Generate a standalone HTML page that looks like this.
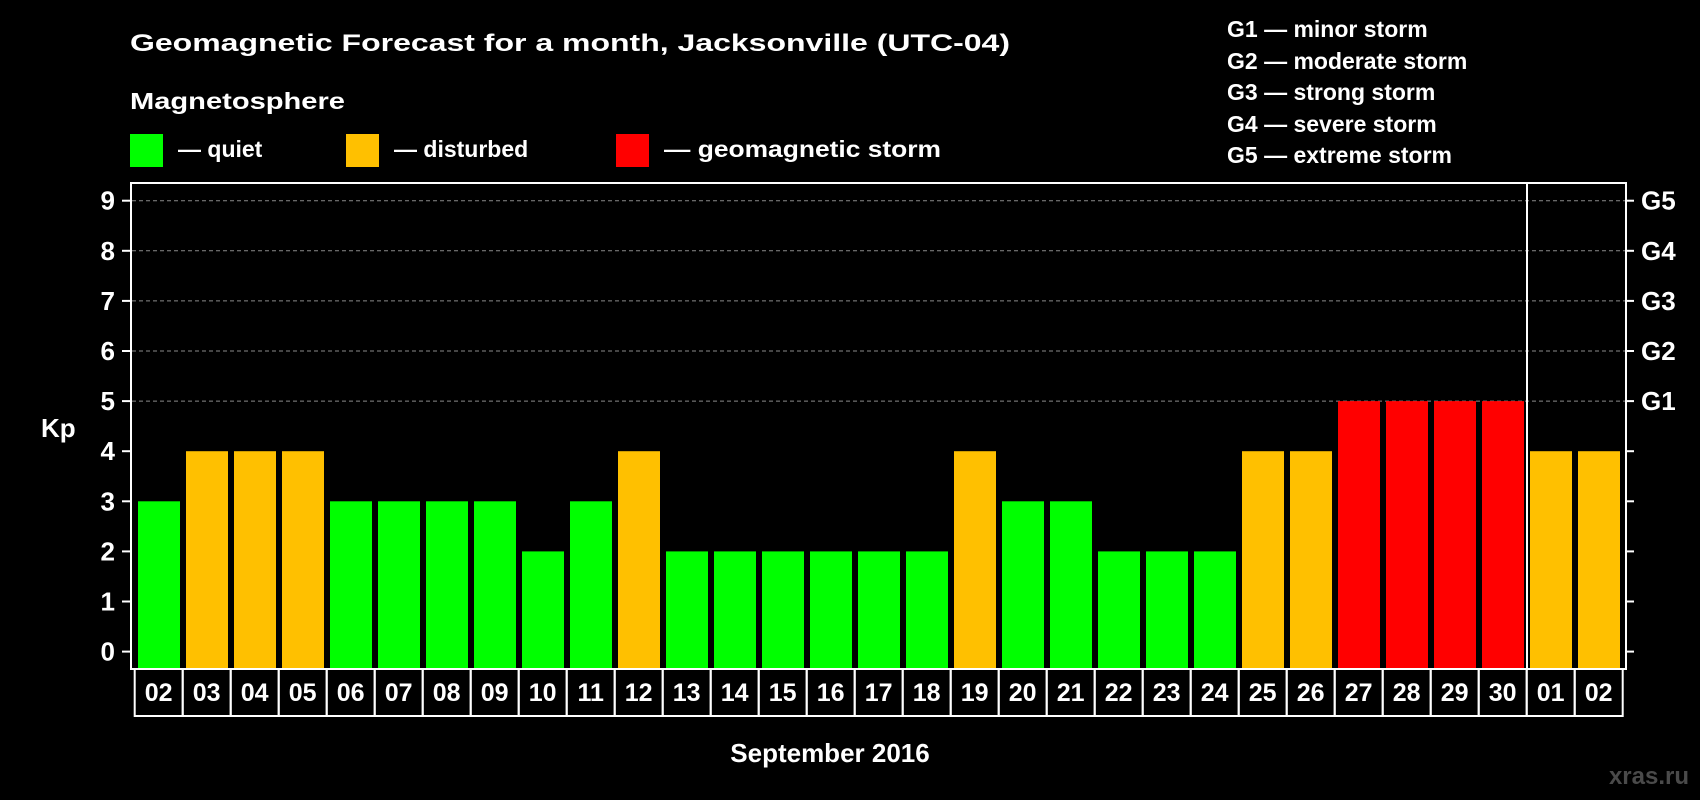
<!DOCTYPE html>
<html><head><meta charset="utf-8"><style>
html,body{margin:0;padding:0;background:#000;}
svg{display:block;font-family:"Liberation Sans",Arial,sans-serif;font-weight:bold;}
</style></head><body>
<svg id="chart" width="1700" height="800" viewBox="0 0 1700 800">
<rect width="1700" height="800" fill="#000"/>
<text x="130" y="51" fill="#fff" font-size="24" textLength="880" lengthAdjust="spacingAndGlyphs">Geomagnetic Forecast for a month, Jacksonville (UTC-04)</text>
<text x="130" y="109" fill="#fff" font-size="23" textLength="215" lengthAdjust="spacingAndGlyphs">Magnetosphere</text>
<g><rect x="130" y="134" width="33" height="33" fill="#00ff00"/><text x="178" y="157" fill="#fff" font-size="23">— quiet</text></g>
<g><rect x="346" y="134" width="33" height="33" fill="#ffc000"/><text x="394" y="157" fill="#fff" font-size="23">— disturbed</text></g>
<g><rect x="616" y="134" width="33" height="33" fill="#ff0000"/><text x="664" y="157" fill="#fff" font-size="23" textLength="277" lengthAdjust="spacingAndGlyphs">— geomagnetic storm</text></g>
<g fill="#fff" font-size="23">
<text x="1227" y="37">G1 — minor storm</text>
<text x="1227" y="69">G2 — moderate storm</text>
<text x="1227" y="100">G3 — strong storm</text>
<text x="1227" y="132">G4 — severe storm</text>
<text x="1227" y="163">G5 — extreme storm</text>
</g>
<g id="grid"></g>
<g id="bars"></g>
<rect x="131" y="183" width="1495" height="486" fill="none" stroke="#fff" stroke-width="2"/>
<line x1="1527" y1="183" x2="1527" y2="669" stroke="#fff" stroke-width="2"/>
<g id="axes"></g>
<g id="xlabels"></g>
<text x="41" y="437" fill="#fff" font-size="26">Kp</text>
<text x="830" y="762" fill="#fff" font-size="26" text-anchor="middle">September 2016</text>
<text x="1689" y="784" fill="#4a4a4a" font-size="24" text-anchor="end">xras.ru</text>
</svg>
<script>
const days = ["02","03","04","05","06","07","08","09","10","11","12","13","14","15","16","17","18","19","20","21","22","23","24","25","26","27","28","29","30","01","02"];
const kpValues = [3,4,4,4,3,3,3,3,2,3,4,2,2,2,2,2,2,4,3,3,2,2,2,4,4,5,5,5,5,4,4];
const yTicks = [0,1,2,3,4,5,6,7,8,9];
const gLabels = ["G1","G2","G3","G4","G5"];
const gLevels = [5,6,7,8,9];

const NS = "http://www.w3.org/2000/svg";
const y = v => 651.6 - v * 50.1;
const xStart = i => 138 + i * 48;
const color = v => v >= 5 ? "#ff0000" : (v >= 4 ? "#ffc000" : "#00ff00");
function mk(tag, attrs, parent){const e=document.createElementNS(NS,tag);for(const k in attrs)e.setAttribute(k,attrs[k]);parent.appendChild(e);return e;}
const grid=document.getElementById("grid"),bars=document.getElementById("bars"),axes=document.getElementById("axes"),xl=document.getElementById("xlabels");

gLevels.forEach((lv,i)=>{
  const l=mk("line",{x1:132,x2:1625,y1:y(lv),y2:y(lv),stroke:"#8a8a8a","stroke-width":1,"stroke-dasharray":"4 3"},grid);
  
  
  const t=mk("text",{x:1641,y:y(lv)+9,fill:"#fff","font-size":26},axes);
  t.textContent=gLabels[i];
  
  
});
yTicks.forEach(v=>{
  const a=mk("line",{x1:122,x2:131,y1:y(v),y2:y(v),stroke:"#fff","stroke-width":2},axes);
  
  
  const b=mk("line",{x1:1626,x2:1634,y1:y(v),y2:y(v),stroke:"#fff","stroke-width":2},axes);
  
  
  const t=mk("text",{x:115,y:y(v)+9,fill:"#fff","font-size":26,"text-anchor":"end"},axes);
  t.textContent=v;
  
  
});
kpValues.forEach((v,i)=>{
  const r=mk("rect",{x:xStart(i),y:y(v),width:42,height:y(0)+16.5-y(v),fill:color(v)},bars);
  
  
});
days.forEach((d,i)=>{
  const bx=134.7+i*48;
  const r=mk("rect",{x:bx,y:669,width:48,height:47,fill:"none",stroke:"#fff","stroke-width":2},xl);
  
  
  const t=mk("text",{x:bx+24,y:701,fill:"#fff","font-size":25,"text-anchor":"middle"},xl);
  t.textContent=d;
  
  
});
</script>
</body></html>
